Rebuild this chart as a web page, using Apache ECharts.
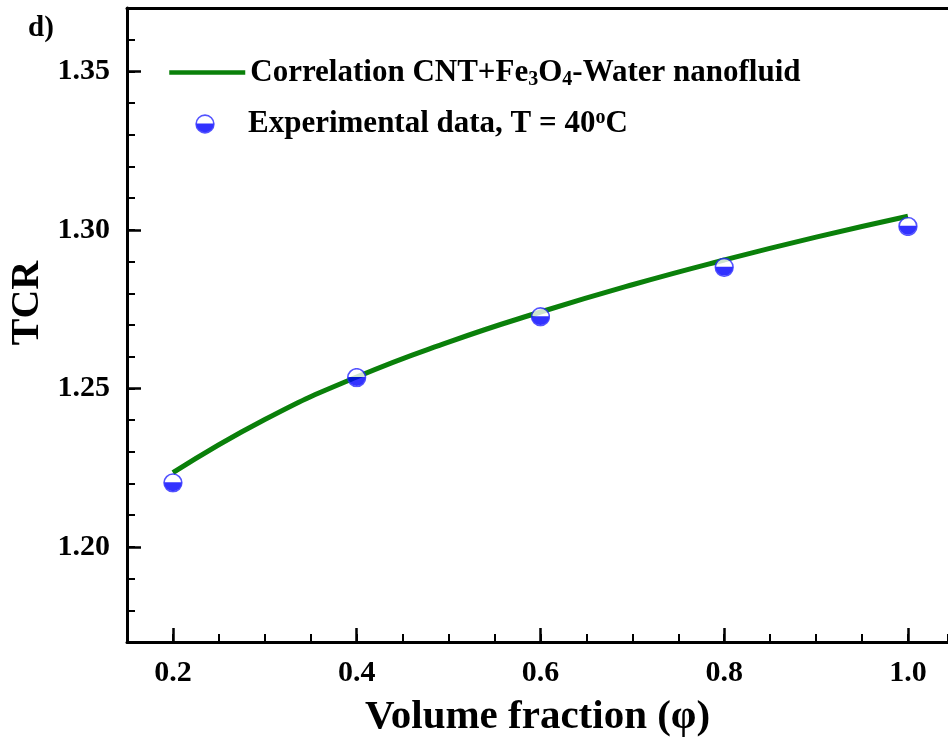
<!DOCTYPE html>
<html>
<head>
<meta charset="utf-8">
<script src="https://cdn.jsdelivr.net/npm/echarts@6/dist/echarts.min.js"></script>
<style>html,body{margin:0;padding:0;background:#fff}#c{width:948px;height:738px}</style>
</head>
<body>
<div id="c"></div>
<script>
// ---- data ----
const phiCurve = [0.2, 0.3, 0.4, 0.5, 0.6, 0.7, 0.8, 0.9, 1.0];
const tcrCurve = [1.2234, 1.2402, 1.2536, 1.2646, 1.2741, 1.2827, 1.2905, 1.2977, 1.3043];
const phiExp = [0.2, 0.4, 0.6, 0.8, 1.0];
const tcrExp = [1.2202, 1.2534, 1.2726, 1.2882, 1.3011];
const xTickLabels = [0.2, 0.4, 0.6, 0.8, 1.0];
const yTickLabels = [1.20, 1.25, 1.30, 1.35];
const curveName = 'Correlation CNT+Fe3O4-Water nanofluid';
const expName = 'Experimental data, T = 40oC';

const FONT = 'Liberation Serif';
const X_MIN = 0.15, X_MAX = 1.0436, Y_MIN = 1.17, Y_MAX = 1.37;

const markerSvg = "<svg xmlns='http://www.w3.org/2000/svg' width='20' height='20' viewBox='0 0 20 20'>" +
  "<circle cx='10' cy='10' r='8.9' fill='#ffffff' stroke='#2a2aff' stroke-width='1.6'/>" +
  "<path d='M1.1 9.4 A8.9 8.9 0 0 0 18.9 9.4 Z' fill='#0000ff'/></svg>";
const markerSymbol = 'image://data:image/svg+xml;charset=utf-8,' + encodeURIComponent(markerSvg);

const chart = echarts.init(document.getElementById('c'), null, {renderer: 'canvas'});

const richText = {
  n: {fontFamily: FONT, fontWeight: 'bold', fontSize: 31, color: '#000'},
  sub: {fontFamily: FONT, fontWeight: 'bold', fontSize: 20, color: '#000', verticalAlign: 'bottom', padding: [14, 0, 0, 0]},
  sup: {fontFamily: FONT, fontWeight: 'bold', fontSize: 20, color: '#000', verticalAlign: 'top', padding: [0, 0, 12, 0]}
};

function legendFmt(name) {
  if (name === curveName) return '{n|Correlation CNT+Fe}{sub|3}{n|O}{sub|4}{n|-Water nanofluid}';
  return '{n|Experimental data, T = 40}{sup|o}{n|C}';
}

const option = {
  animation: false,
  backgroundColor: '#fff',
  title: {
    text: 'd)', left: 28, top: 14, padding: 0,
    textStyle: {fontFamily: FONT, fontWeight: 'bold', fontSize: 29, color: '#000'}
  },
  graphic: [{
    type: 'text', x: 28, y: 303, rotation: Math.PI / 2,
    style: {text: 'TCR', fontFamily: FONT, fontWeight: 'bold', fontSize: 40, fill: '#000', align: 'center', verticalAlign: 'middle'}
  }],
  legend: [
    {
      data: [curveName], left: 167, top: 57, padding: 0, orient: 'vertical',
      itemWidth: 76, itemHeight: 18, formatter: legendFmt,
      itemStyle: {color: 'rgba(0,0,0,0)', borderWidth: 0, opacity: 0},
      lineStyle: {color: '#0a800a', width: 4.5},
      textStyle: {rich: richText}, selectedMode: false
    },
    {
      data: [expName], left: 167, top: 108, padding: 0, orient: 'vertical',
      itemWidth: 76, itemHeight: 20, formatter: legendFmt,
      textStyle: {rich: richText}, selectedMode: false
    }
  ],
  grid: {left: 127, right: 0, top: 8, bottom: 96, containLabel: false, outerBoundsMode: 'none'},
  xAxis: [
    {
      type: 'value', min: X_MIN, max: X_MAX, interval: 0.05, position: 'bottom',
      axisLine: {show: true, lineStyle: {color: '#000', width: 3}},
      axisTick: {show: true, inside: true, length: 8, lineStyle: {color: '#000', width: 2}},
      axisLabel: {show: false}, splitLine: {show: false}
    },
    {
      type: 'value', min: X_MIN, max: X_MAX, position: 'bottom',
      axisLine: {show: false},
      axisTick: {show: true, inside: true, length: 14, customValues: xTickLabels, lineStyle: {color: '#000', width: 2.5}},
      axisLabel: {show: true, customValues: xTickLabels, margin: 16, formatter: v => v.toFixed(1),
        fontFamily: FONT, fontWeight: 'bold', fontSize: 30, color: '#000'},
      splitLine: {show: false},
      name: 'Volume fraction (φ)', nameLocation: 'middle', nameGap: 55,
      nameTextStyle: {fontFamily: FONT, fontWeight: 'bold', fontSize: 41, color: '#000'}
    },
    {
      type: 'value', min: X_MIN, max: X_MAX, position: 'top',
      axisLine: {show: true, lineStyle: {color: '#000', width: 3}},
      axisTick: {show: false}, axisLabel: {show: false}, splitLine: {show: false}
    }
  ],
  yAxis: [
    {
      type: 'value', min: Y_MIN, max: Y_MAX, interval: 0.01, position: 'left',
      axisLine: {show: true, lineStyle: {color: '#000', width: 3}},
      axisTick: {show: true, inside: true, length: 8, lineStyle: {color: '#000', width: 2}},
      axisLabel: {show: false}, splitLine: {show: false}
    },
    {
      type: 'value', min: Y_MIN, max: Y_MAX, position: 'left',
      axisLine: {show: false},
      axisTick: {show: true, inside: true, length: 14, customValues: yTickLabels, lineStyle: {color: '#000', width: 2.5}},
      axisLabel: {show: true, customValues: yTickLabels, margin: 17, formatter: v => v.toFixed(2),
        fontFamily: FONT, fontWeight: 'bold', fontSize: 30, color: '#000'},
      splitLine: {show: false}
    }
  ],
  series: [
    {
      name: curveName, type: 'line', xAxisIndex: 0, yAxisIndex: 0,
      data: phiCurve.map((x, i) => [x, tcrCurve[i]]),
      smooth: true, symbol: 'none', showSymbol: false,
      lineStyle: {color: '#0a800a', width: 5}, itemStyle: {color: '#0a800a'}, z: 2
    },
    {
      name: expName, type: 'scatter', xAxisIndex: 0, yAxisIndex: 0,
      data: phiExp.map((x, i) => [x, tcrExp[i]]),
      symbol: markerSymbol, symbolSize: 20, symbolKeepAspect: true,
      itemStyle: {color: '#0000ff'}, z: 3
    }
  ]
};
chart.setOption(option);
</script>
</body>
</html>
